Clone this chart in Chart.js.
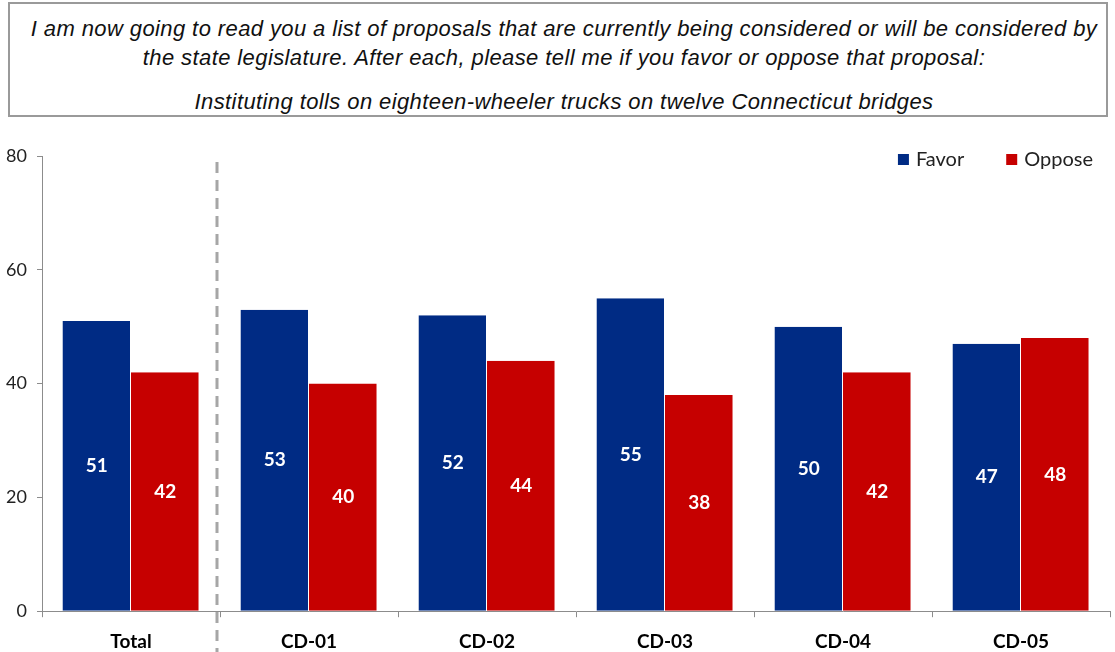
<!DOCTYPE html>
<html>
<head>
<meta charset="utf-8">
<script src="https://cdn.jsdelivr.net/npm/chart.js@4/dist/chart.umd.min.js"></script>
<style>
  body { margin: 0; background: #fff; width: 1115px; height: 652px; overflow: hidden; position: relative; }
  #title {
    position: absolute; left: 8px; top: 2px; width: 1100px; height: 115px;
    border: 2px solid #9a9a9a; box-sizing: border-box;
    font-family: "Liberation Sans", Arial, sans-serif; font-style: italic;
    font-size: 22px; letter-spacing: 0.4px; color: #111; text-align: center; line-height: 29px;
    padding-top: 10px; padding-left: 12px; white-space: nowrap;
  }
  #title .sub { margin-top: 15px; }
  #chart { position: absolute; left: 0; top: 120px; }
</style>
</head>
<body>
<div id="title">
  I am now going to read you a list of proposals that are currently being considered or will be considered by<br>
  the state legislature. After each, please tell me if you favor or oppose that proposal:
  <div class="sub">Instituting tolls on eighteen-wheeler trucks on twelve Connecticut bridges</div>
</div>
<canvas id="chart" width="1115" height="546"></canvas>
<script>
// chart data
const categories = ["Total", "CD-01", "CD-02", "CD-03", "CD-04", "CD-05"];
const favor = [51, 53, 52, 55, 50, 47];
const oppose = [42, 40, 44, 38, 42, 48];
const yTicks = [0, 20, 40, 60, 80];

const FONT = 'Lato, "Open Sans", sans-serif';

// white value labels in the middle of each bar
const barLabels = {
    id: 'barLabels',
    afterDatasetsDraw(chart) {
        const ctx = chart.ctx;
        ctx.save();
        ctx.fillStyle = '#fff';
        ctx.font = 'bold 19px ' + FONT;
        ctx.textAlign = 'center';
        ctx.textBaseline = 'middle';
        chart.data.datasets.forEach((ds, i) => {
            chart.getDatasetMeta(i).data.forEach((bar, j) => {
                const mid = (bar.y + bar.base) / 2;
                ctx.fillText(ds.data[j], bar.x, mid);
            });
        });
        ctx.restore();
    }
};

// dashed divider between Total and the districts
const divider = {
    id: 'divider',
    afterDraw(chart) {
        const x = chart.scales.x.getPixelForValue(0.5) - 3;
        const ctx = chart.ctx;
        ctx.save();
        ctx.strokeStyle = '#a6a6a6';
        ctx.lineWidth = 3;
        ctx.setLineDash([11, 7]);
        ctx.beginPath();
        ctx.moveTo(x, chart.chartArea.top + 6);
        ctx.lineTo(x, chart.height);
        ctx.stroke();
        ctx.restore();
    }
};

// legend drawn inside the plot, top right
const insideLegend = {
    id: 'insideLegend',
    afterDraw(chart) {
        const ctx = chart.ctx;
        const area = chart.chartArea;
        ctx.save();
        ctx.font = '20px ' + FONT;
        ctx.textBaseline = 'middle';
        const y = area.top + 4;
        let x = area.right - 17;
        const items = chart.data.datasets.slice().reverse();
        items.forEach(ds => {
            const w = ctx.measureText(ds.label).width;
            x -= w;
            ctx.fillStyle = '#222';
            ctx.fillText(ds.label, x, y);
            ctx.fillStyle = ds.backgroundColor;
            ctx.fillRect(x - 18, y - 6, 11, 11);
            x -= 18 + 42;
        });
        ctx.restore();
    }
};

new Chart(document.getElementById('chart'), {
    type: 'bar',
    data: {
        labels: categories,
        datasets: [
            { label: 'Favor', data: favor, backgroundColor: '#002b84', borderColor: '#ffffff', borderWidth: { right: 1 } },
            { label: 'Oppose', data: oppose, backgroundColor: '#c60000', borderColor: '#ffffff', borderWidth: { right: 1 } }
        ]
    },
    options: {
        responsive: false,
        animation: false,
        layout: { padding: { top: 36, right: 5, bottom: 0, left: 0 } },
        datasets: { bar: { categoryPercentage: 0.77, barPercentage: 1 } },
        plugins: {
            legend: { display: false },
            tooltip: { enabled: false }
        },
        scales: {
            x: {
                grid: { display: true, drawOnChartArea: false, offset: true, tickLength: 6, color: '#8c8c8c' },
                border: { color: '#8c8c8c', width: 1 },
                ticks: {
                    color: '#000', padding: 13,
                    font: { family: FONT, size: 19, weight: 'bold' }
                }
            },
            y: {
                min: 0, max: 80,
                afterBuildTicks(axis) { axis.ticks = yTicks.map(v => ({ value: v })); },
                afterFit(axis) { axis.width = 42; },
                grid: { display: true, drawOnChartArea: false, tickLength: 5, color: '#8c8c8c' },
                border: { color: '#8c8c8c', width: 1 },
                ticks: {
                    color: '#222', padding: 10,
                    font: { family: FONT, size: 18 }
                }
            }
        }
    },
    plugins: [barLabels, divider, insideLegend]
});
</script>
</body>
</html>
